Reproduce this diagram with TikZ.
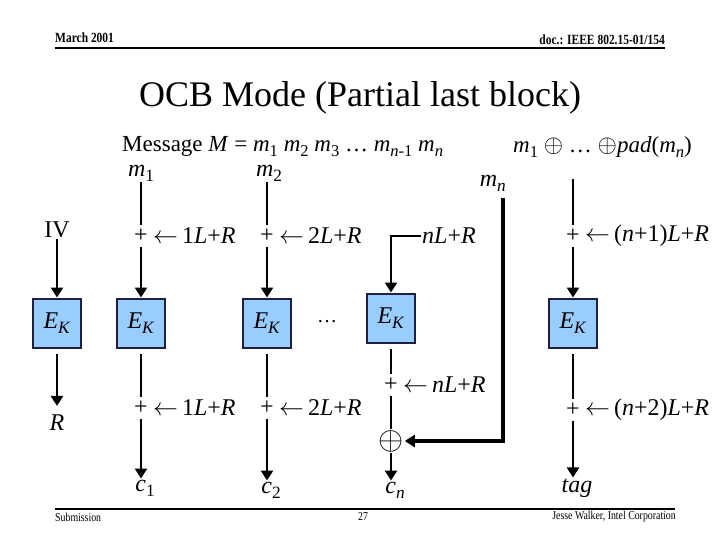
\documentclass[tikz,border=0pt]{standalone}
\usepackage{fontspec}
\setmainfont{Liberation Serif}
\newfontfamily\narrowfont[FakeStretch=0.82]{Liberation Serif}
\usetikzlibrary{arrows.meta,positioning,calc}
\definecolor{ekfill}{HTML}{99CCFF}
\definecolor{ekline}{HTML}{1F1F3F}
\newcommand\ssub[1]{\raisebox{-0.22em}{\scalebox{0.72}{#1}}}

\begin{document}
\begin{tikzpicture}[x=1pt, y=-1pt,
    every node/.style={font=\fontsize{24}{27}\selectfont, inner sep=1pt},
    ek/.style={draw=ekline, line width=2pt, fill=ekfill, minimum width=48pt, minimum height=49pt},
    plus/.style={inner xsep=1pt, inner ysep=4pt},
    wire/.style={line width=2.8pt},
    arr/.style={wire, -{Triangle[width=12pt,length=10pt]}},
    small/.style={font=\narrowfont\fontsize{12}{14}\selectfont}]
            \useasboundingbox (0,0) rectangle (720,540);

            % header and title
            \node[small, anchor=west, font=\narrowfont\bfseries\fontsize{14}{16}\selectfont] (date) at (54,38) {March 2001};
            \node[small, anchor=east, font=\narrowfont\bfseries\fontsize{14}{16}\selectfont] (doc) at (666,40) {doc.: IEEE 802.15-01/154};
            \draw[line width=2pt] (55,48) -- (665,48);
            \node[font=\fontsize{36}{40}\selectfont] (title) at (360,98) {OCB Mode (Partial last block)};

            \node[anchor=west, font=\fontsize{23}{26}\selectfont] (msg) at (121,147) {Message \textit{M} = \textit{m}\ssub{1} \textit{m}\ssub{2} \textit{m}\ssub{3} \dots\ \textit{m}\ssub{\textit{n}-1} \textit{m}\ssub{\textit{n}}};
            \node[anchor=west, font=\fontsize{23}{26}\selectfont] (pad) at (512,147) {\textit{m}\ssub{1} $\oplus$ \dots\ $\oplus$\textit{pad}(\textit{m}\ssub{\textit{n}})};

            % inputs
            \node (m1) at (141,173) {\textit{m}\ssub{1}};
            \node (m2) at (269,173) {\textit{m}\ssub{2}};
            \node[anchor=east] (mn) at (507,183) {\textit{m}\ssub{\textit{n}}};
            \node (iv) at (57,230) {IV};

            % offsets before the cipher
            \node[plus] (p1) at (141,236) {+};
            \node[right=3pt of p1] (k1) {$\leftarrow$\,1\textit{L}+\textit{R}};
            \node[plus] (p2) at (267,236) {+};
            \node[right=3pt of p2] (k2) {$\leftarrow$\,2\textit{L}+\textit{R}};
            \node[anchor=west] (tn) at (421,236) {\textit{nL}+\textit{R}};
            \node[plus] (pl) at (573,236) {+};
            \node[right=3pt of pl] (kl) {$\leftarrow$\,(\textit{n}+1)\textit{L}+\textit{R}};

            % cipher blocks
            \node[ek] (e0) at (57,323) {\textit{E}\ssub{\textit{K}}};
            \node[ek] (e1) at (141,323) {\textit{E}\ssub{\textit{K}}};
            \node[ek] (e2) at (267,323) {\textit{E}\ssub{\textit{K}}};
            \node[font=\fontsize{20}{24}\selectfont] (dots) at (327,322) {\dots};
            \node[ek] (en) at (391,318) {\textit{E}\ssub{\textit{K}}};
            \node[ek] (el) at (573,323) {\textit{E}\ssub{\textit{K}}};

            % offsets after the cipher
            \node[plus] (q1) at (141,408) {+};
            \node[right=3pt of q1] (r1) {$\leftarrow$\,1\textit{L}+\textit{R}};
            \node[plus] (q2) at (267,408) {+};
            \node[right=3pt of q2] (r2) {$\leftarrow$\,2\textit{L}+\textit{R}};
            \node[plus] (qn) at (391,385) {+};
            \node[right=3pt of qn] (rn) {$\leftarrow$\,\textit{nL}+\textit{R}};
            \node[plus] (ql) at (573,410) {+};
            \node[right=3pt of ql] (rl) {$\leftarrow$\,(\textit{n}+2)\textit{L}+\textit{R}};
            \node[inner sep=1pt] (ox) at (391,441) {\scalebox{1.3}{$\oplus$}};

            % outputs
            \node (rr) at (57,423) {\textit{R}};
            \node (c1) at (145,488) {\textit{c}\ssub{1}};
            \node (c2) at (271,490) {\textit{c}\ssub{2}};
            \node (cn) at (395,490) {\textit{c}\ssub{\textit{n}}};
            \node (tag) at (577,488) {\textit{tag}};

            % wires
            \draw[arr] (iv) -- (e0);
            \draw[arr, shorten <=5pt, shorten >=8pt] (e0) -- (rr);
            \draw[wire] (m1.south -| p1) -- (p1);
            \draw[wire] (m2.south -| p2) -- (p2);
            \draw[arr] (p1) -- (e1);
            \draw[arr] (p2) -- (e2);
            \draw[arr] (tn.west) -| (en);
            \draw[wire, shorten <=20pt] (pad.south -| pl) -- (pl);
            \draw[arr] (pl) -- (el);
            \draw[wire, shorten <=5pt] (e1) -- (q1);
            \draw[wire, shorten <=5pt] (e2) -- (q2);
            \draw[wire, shorten <=5pt] (en) -- (qn);
            \draw[wire, shorten <=5pt] (el) -- (ql);
            \draw[wire] (qn) -- (ox);
            \draw[arr, line width=3.2pt, shorten <=6pt] ([xshift=-4pt]mn.south east) |- (ox);
            \draw[arr] (q1) -- (q1 |- c1.north);
            \draw[arr] (q2) -- (q2 |- c2.north);
            \draw[arr] (ox) -- (ox |- cn.north);
            \draw[arr] (ql) -- (ql |- tag.north);

            % footer
            \draw[line width=1.6pt] (55,509) -- (675,509);
            \node[small, anchor=west] (sub) at (54,517) {Submission};
            \node[small] (page) at (363,517) {27};
            \node[small, anchor=east] (auth) at (677,517) {Jesse Walker, Intel Corporation};
        \end{tikzpicture}
\end{document}
